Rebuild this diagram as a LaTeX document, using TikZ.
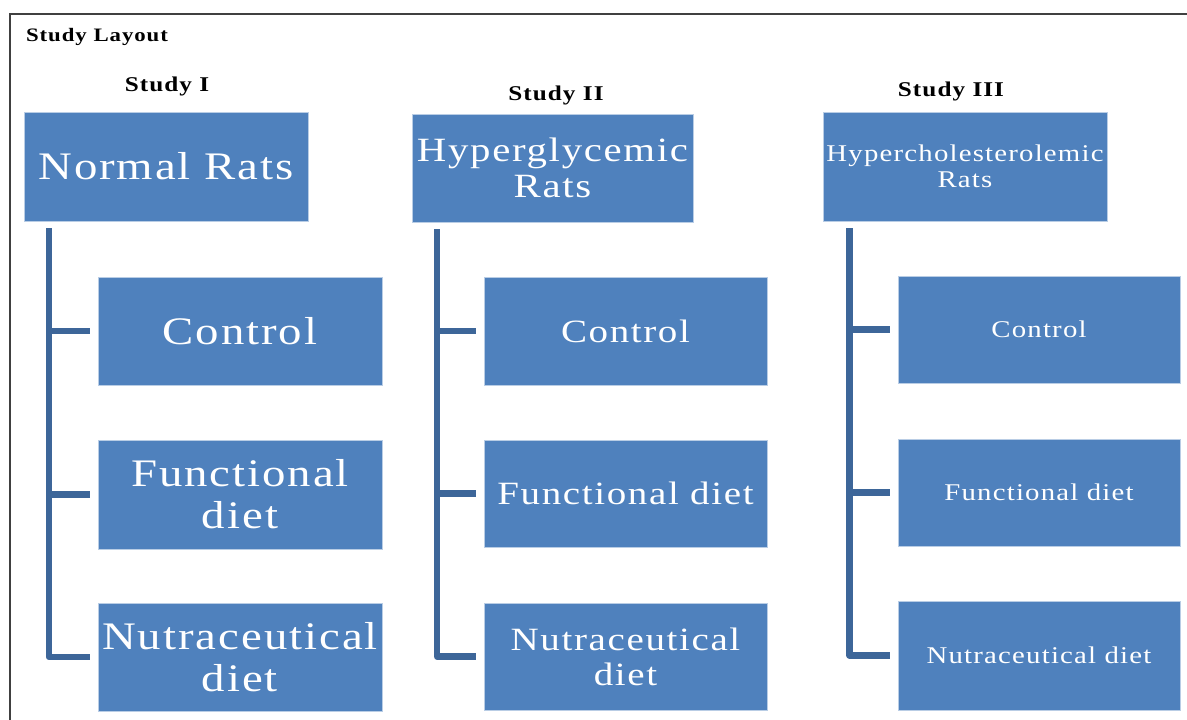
\documentclass[tikz,border=0pt]{standalone}
\usepackage{fontspec}
\setmainfont{Liberation Serif}
\newfontfamily\boxfont[FakeStretch=1.2,LetterSpace=5]{Liberation Serif}
\definecolor{boxblue}{HTML}{4F81BD}
\definecolor{boxedge}{HTML}{B9CDE5}
\definecolor{connblue}{HTML}{3D6699}
\definecolor{framegray}{HTML}{404040}
\newcommand{\fsz}[1]{\fontsize{#1}{1.07\dimexpr #1pt\relax}\selectfont}
\tikzset{
  box/.style={rectangle, fill=boxblue, draw=boxedge, line width=0.8pt,
    minimum width=283pt, minimum height=108pt, inner sep=0pt,
    text=white, align=center, font=\boxfont},
  bigtxt/.style={font=\boxfont\fsz{39}},
  midtxt/.style={font=\boxfont\fsz{32.5}},
  smalltxt/.style={font=\boxfont\fsz{24}},
  studytitle/.style={font=\boxfont\bfseries\fsz{21}, text=black, inner sep=0pt},
  conn/.style={draw=connblue, line width=6.5pt, line cap=butt, line join=round},
}
\begin{document}
\begin{tikzpicture}[x=1pt,y=-1pt]
\useasboundingbox (0,0) rectangle (1187,720);
\fill[white] (0,0) rectangle (1187,720);
% frame
\draw[framegray, line width=2pt] (10,721) -- (10,13.5) -- (1188,13.5);
% titles
\node[studytitle, font=\boxfont\bfseries\fsz{19}] (layout) at (97,37) {Study Layout};
\node[studytitle] (t1) at (167,86) {Study I};
\node[studytitle] (t2) at (556,95) {Study II};
\node[studytitle] (t3) at (951,91) {Study III};
% Study I
\node[box, bigtxt, minimum width=284pt, minimum height=109pt] (p1) at (166,166.5) {Normal Rats};
\node[box, bigtxt, minimum width=284pt] (a1) at (240,331) {Control};
\node[box, bigtxt, minimum width=284pt, minimum height=109pt] (b1) at (240,494.5) {Functional\\diet};
\node[box, bigtxt, minimum width=284pt] (c1) at (240,657) {Nutraceutical\\diet};
% Study II
\node[box, midtxt, font=\boxfont\fsz{34}, minimum width=281pt] (p2) at (552.5,168) {Hyperglycemic\\Rats};
\node[box, midtxt] (a2) at (625.5,331) {Control};
\node[box, midtxt, minimum height=107pt] (b2) at (625.5,493.5) {Functional diet};
\node[box, midtxt, minimum height=107pt] (c2) at (625.5,656.5) {Nutraceutical\\diet};
% Study III
\node[box, smalltxt, minimum width=284pt, minimum height=109pt] (p3) at (965,166.5) {Hypercholesterolemic\\Rats};
\node[box, smalltxt, minimum width=282pt, minimum height=107pt] (a3) at (1039,329.5) {Control};
\node[box, smalltxt, minimum width=282pt, minimum height=107pt] (b3) at (1039,492.5) {Functional diet};
\node[box, smalltxt, minimum width=282pt, minimum height=109pt] (c3) at (1039,655.5) {Nutraceutical diet};
% connectors
\coordinate (v1) at (49,228);
\coordinate (v2) at (437,229);
\coordinate (v3) at (849.5,228);
\draw[conn] (v1) |- ([xshift=-8pt]c1.west);
\draw[conn] (v1 |- a1.west) -- ([xshift=-8pt]a1.west);
\draw[conn] (v1 |- b1.west) -- ([xshift=-8pt]b1.west);
\draw[conn] (v2) |- ([xshift=-8pt]c2.west);
\draw[conn] (v2 |- a2.west) -- ([xshift=-8pt]a2.west);
\draw[conn] (v2 |- b2.west) -- ([xshift=-8pt]b2.west);
\draw[conn] (v3) |- ([xshift=-8pt]c3.west);
\draw[conn] (v3 |- a3.west) -- ([xshift=-8pt]a3.west);
\draw[conn] (v3 |- b3.west) -- ([xshift=-8pt]b3.west);
\end{tikzpicture}
\end{document}
